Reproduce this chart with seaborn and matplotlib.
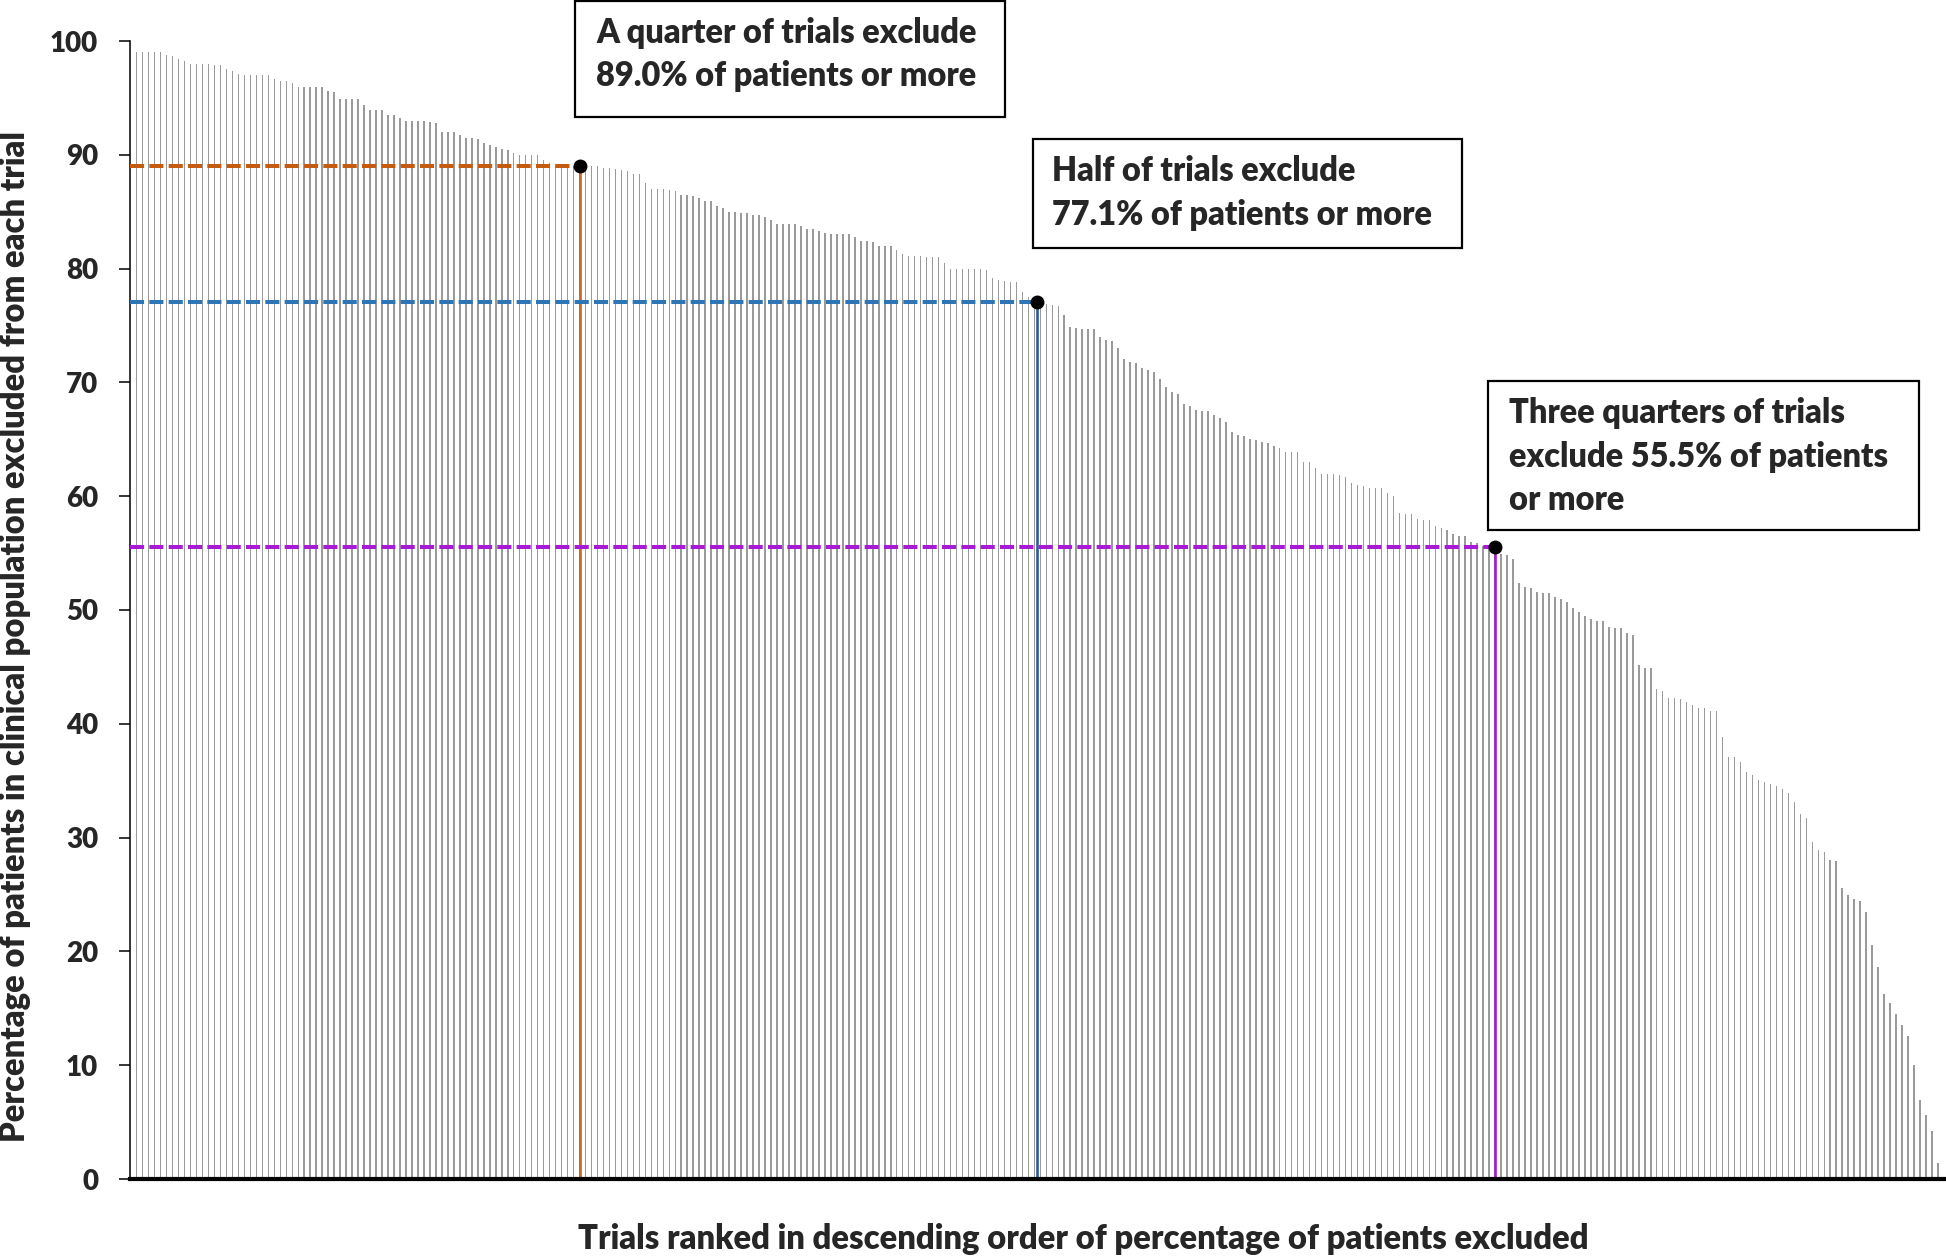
import matplotlib
matplotlib.use("Agg")
import matplotlib.pyplot as plt
import seaborn as sns
import numpy as np
import pandas as pd
from matplotlib.patches import Rectangle

# ---------------- data ----------------
pct_excluded = [
    99.0, 99.0, 99.0, 99.0, 99.0, 98.8, 98.7, 98.4, 98.2, 98.0,
    98.0, 98.0, 98.0, 97.9, 97.9, 97.5, 97.4, 97.1, 97.0, 97.0,
    97.0, 97.0, 97.0, 96.7, 96.5, 96.5, 96.3, 96.0, 96.0, 96.0,
    96.0, 96.0, 95.6, 95.5, 94.9, 94.9, 94.9, 94.9, 94.4, 93.9,
    93.9, 93.9, 93.5, 93.5, 93.2, 93.0, 93.0, 93.0, 92.95, 92.85,
    92.8, 92.0, 92.0, 92.0, 91.7, 91.5, 91.5, 91.35, 91.0, 90.9,
    90.7, 90.5, 90.4, 90.2, 90.0, 90.0, 90.0, 90.0, 89.5, 89.3,
    89.1, 89.1, 89.0, 89.0, 89.0, 89.0, 89.0, 89.0, 88.85, 88.8,
    88.75, 88.7, 88.6, 88.3, 88.3, 87.5, 87.0, 87.0, 87.0, 86.9,
    86.8, 86.5, 86.5, 86.4, 86.2, 85.9, 85.9, 85.5, 85.3, 85.0,
    84.95, 84.85, 84.85, 84.7, 84.7, 84.5, 84.25, 83.9, 83.9, 83.9,
    83.9, 83.7, 83.5, 83.5, 83.3, 83.1, 83.0, 83.0, 83.0, 83.0,
    82.8, 82.4, 82.4, 82.3, 82.0, 82.0, 82.0, 81.6, 81.3, 81.1,
    81.1, 81.1, 81.0, 81.0, 81.0, 80.5, 80.0, 80.0, 80.0, 80.0,
    80.0, 79.95, 79.9, 79.2, 79.0, 78.9, 78.8, 78.8, 77.9, 77.5,
    77.1, 76.95, 76.9, 76.8, 76.7, 75.9, 74.9, 74.8, 74.7, 74.7,
    74.7, 74.0, 73.7, 73.6, 73.0, 72.1, 71.8, 71.7, 71.3, 71.1,
    70.9, 70.3, 69.6, 69.2, 68.95, 68.1, 67.9, 67.6, 67.5, 67.5,
    67.1, 66.9, 66.5, 65.6, 65.4, 65.3, 65.0, 64.9, 64.8, 64.65,
    64.4, 64.2, 63.9, 63.9, 63.9, 63.0, 63.0, 62.5, 61.95, 61.95,
    61.95, 61.9, 61.7, 61.2, 61.0, 60.9, 60.75, 60.75, 60.75, 60.3,
    60.0, 58.5, 58.45, 58.4, 58.0, 57.9, 57.9, 57.4, 57.2, 57.0,
    56.7, 56.5, 56.5, 56.0, 55.85, 55.6, 55.5, 55.5, 54.9, 54.8,
    54.45, 52.35, 52.0, 51.9, 51.55, 51.5, 51.45, 51.1, 51.0, 50.7,
    50.2, 49.8, 49.5, 49.2, 49.0, 49.0, 48.5, 48.4, 48.4, 48.0,
    47.8, 45.2, 44.9, 44.9, 43.06, 42.85, 42.3, 42.3, 42.2, 41.95,
    41.65, 41.4, 41.4, 41.15, 41.1, 38.8, 37.05, 37.05, 36.6, 35.8,
    35.5, 35.06, 34.9, 34.7, 34.56, 34.3, 33.95, 33.1, 32.1, 31.75,
    29.6, 28.9, 28.7, 28.0, 27.9, 25.6, 25.0, 24.6, 24.45, 23.5,
    20.6, 18.6, 16.3, 15.5, 14.5, 13.5, 12.6, 10.0, 6.9, 5.6,
    4.2, 1.4,
]
trial_rank = list(range(len(pct_excluded)))

quartile_names = ["Q1", "Median", "Q3"]
quartile_rank = [74.1, 150.5, 226.9]
quartile_value = [89.0, 77.1, 55.5]
quartile_dash_colors = ["#C55A11", "#2E75B6", "#A61BD3"]
quartile_line_colors = ["#D0661E", "#2F5C9E", "#A61BD3"]
quartile_text = [
    ["A quarter of trials exclude", "89.0% of patients or more"],
    ["Half of trials exclude", "77.1% of patients or more"],
    ["Three quarters of trials", "exclude 55.5% of patients", "or more"],
]

y_ticks = [0, 10, 20, 30, 40, 50, 60, 70, 80, 90, 100]
y_label = "Percentage of patients in clinical population excluded from each trial"
x_label = "Trials ranked in descending order of percentage of patients excluded"

# ---------------- figure ----------------
W, H = 1946, 1257
DPI = 100
WEIGHT = "heavy"
sns.set_style("white")
plt.rcParams["font.family"] = ["Lato", "DejaVu Sans"]
plt.rcParams["font.weight"] = WEIGHT

fig = plt.figure(figsize=(W / DPI, H / DPI), dpi=DPI)
renderer = fig.canvas.get_renderer()

def fig_xy(px, py):
    return px / W, 1 - py / H

def fit_size(s, target_px, base=20.0):
    t = fig.text(0, 0, s, fontsize=base, fontweight=WEIGHT)
    w = t.get_window_extent(renderer).width
    t.remove()
    return base * target_px / w

ax_left, ax_right, ax_top, ax_bottom = 130, 1946, 41, 1179
ax = fig.add_axes([ax_left / W, 1 - ax_bottom / H,
                   (ax_right - ax_left) / W, (ax_bottom - ax_top) / H])

df = pd.DataFrame({"rank": trial_rank, "pct": pct_excluded})
sns.barplot(data=df, x="rank", y="pct", color="#9a9a9a", width=0.26,
            linewidth=0, saturation=1, ax=ax, errorbar=None)

ax.set_xlim(-1.12, len(pct_excluded) + 0.34)
ax.set_ylim(0, 100)
ax.set_xticks([])
ax.set_xlabel("")
ax.set_ylabel("")

# quartile guides
x0 = ax.get_xlim()[0]
for r, v, dc, lc in zip(quartile_rank, quartile_value,
                        quartile_dash_colors, quartile_line_colors):
    ax.plot([x0, r], [v, v], color=dc, lw=2.9, linestyle=(0, (3.5, 1.3)),
            dash_capstyle="butt", zorder=4)
    ax.plot([r, r], [0, v], color=lc, lw=1.9, zorder=4)
    ax.plot([r], [v], "o", color="black", markersize=9.0, zorder=5, clip_on=False)

# axes styling
for s in ["top", "right"]:
    ax.spines[s].set_visible(False)
ax.spines["left"].set_linewidth(1.1)
ax.spines["left"].set_color("black")
ax.spines["bottom"].set_linewidth(3.0)
ax.spines["bottom"].set_color("black")
ax.spines["bottom"].set_zorder(6)

tick_fs = fit_size("100", 48)
ax.set_yticks(y_ticks)
ax.set_yticklabels([str(t) for t in y_ticks], fontsize=tick_fs, fontweight=WEIGHT)
ax.tick_params(axis="y", direction="out", length=8, width=1.1, pad=15,
               left=True, color="black")
ax.tick_params(axis="x", length=0)

# axis titles
lab_fs = fit_size(y_label, 1012)
fig.text(*fig_xy(15, 636), y_label, rotation=90, ha="center", va="center",
         fontsize=lab_fs, fontweight=WEIGHT)
fig.text(*fig_xy(1083, 1239), x_label, ha="center", va="center",
         fontsize=fit_size(x_label, 1012), fontweight=WEIGHT)

# annotation boxes
box_fs = fit_size(quartile_text[0][0], 381)
boxes = [(575, 1, 1005, 117), (1033, 139, 1462, 248), (1488, 381, 1919, 530)]
text_left = [596, 1052, 1509]
baselines = [[43, 86], [181, 225], [423, 467, 510]]
for (bx0, by0, bx1, by1), tx, lines, bls in zip(boxes, text_left, quartile_text, baselines):
    fx0, fy1 = fig_xy(bx0, by1)
    rect = Rectangle((fx0, fy1), (bx1 - bx0) / W, (by1 - by0) / H,
                     transform=fig.transFigure, facecolor="white",
                     edgecolor="black", linewidth=1.6, zorder=10)
    fig.add_artist(rect)
    for line, bl in zip(lines, bls):
        fig.text(*fig_xy(tx, bl), line, ha="left", va="baseline",
                 fontsize=box_fs, fontweight=WEIGHT, zorder=11)

fig.savefig("out.png", dpi=DPI, facecolor="white")
